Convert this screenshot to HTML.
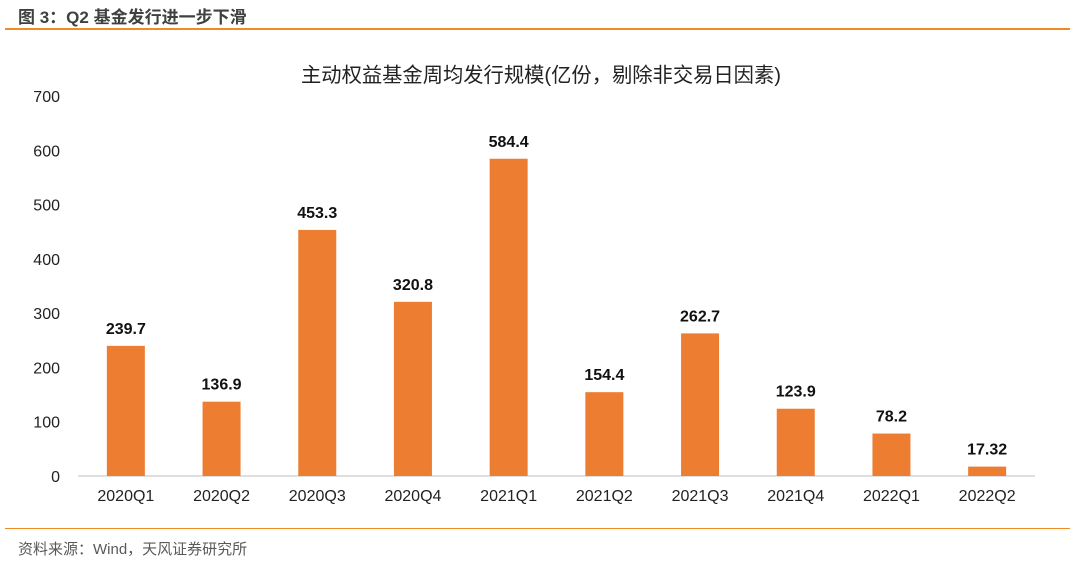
<!DOCTYPE html>
<html><head><meta charset="utf-8"><style>
body{margin:0;background:#fff;width:1080px;height:564px;overflow:hidden;font-family:"Liberation Sans","Noto Sans CJK SC",sans-serif;}
.t{position:absolute;}
</style></head><body>
<div class="t" style="left:18px;top:3px;font-size:17px;font-weight:bold;color:#404040;">图 3：Q2 基金发行进一步下滑</div>
<div class="t" style="left:5px;top:28px;width:1065px;height:2px;background:#f08a24;"></div>
<div class="t" style="left:5px;top:528px;width:1065px;height:1px;background:#f08a24;"></div>
<div class="t" style="left:18px;top:538px;font-size:15px;color:#595959;">资料来源：Wind，天风证券研究所</div>
<svg class="t" style="left:0;top:0" width="1080" height="564" id="chart">
<text x="541" y="82" text-anchor="middle" font-size="20.3" fill="#222">主动权益基金周均发行规模(亿份，剔除非交易日因素)</text>
</svg>
<script>
const categories=["2020Q1","2020Q2","2020Q3","2020Q4","2021Q1","2021Q2","2021Q3","2021Q4","2022Q1","2022Q2"];
const values=[239.7,136.9,453.3,320.8,584.4,154.4,262.7,123.9,78.2,17.32];
const labels=["239.7","136.9","453.3","320.8","584.4","154.4","262.7","123.9","78.2","17.32"];
const ticks=[0,100,200,300,400,500,600,700];
const svg=document.getElementById('chart');
const NS='http://www.w3.org/2000/svg';
const x0=78,x1=1035,y0=476,yTop=96,ymax=700;
const y=v=>y0-(v/ymax)*(y0-yTop);
const step=(x1-x0)/categories.length;
const xc=i=>x0+step*(i+0.5);
function mk(t,a){const e=document.createElementNS(NS,t);for(const k in a)e.setAttribute(k,a[k]);svg.appendChild(e);return e;}
ticks.forEach(t=>{const e=mk('text',{x:60,y:y(t)+6,'text-anchor':'end','font-size':16,fill:'#222'});e.textContent=t;

});
const ax=mk('line',{x1:x0,x2:x1,y1:y0,y2:y0,stroke:'#bfbfbf','stroke-width':1});


categories.forEach((c,i)=>{
const b=mk('rect',{x:xc(i)-19,y:y(values[i]),width:38,height:y0-y(values[i]),fill:'#ed7d31'});


const l=mk('text',{x:xc(i),y:y(values[i])-12,'text-anchor':'middle','font-size':16,'font-weight':'bold',fill:'#111'});l.textContent=labels[i];


const t=mk('text',{x:xc(i),y:501,'text-anchor':'middle','font-size':16,fill:'#222'});t.textContent=c;


});
</script>
</body></html>
